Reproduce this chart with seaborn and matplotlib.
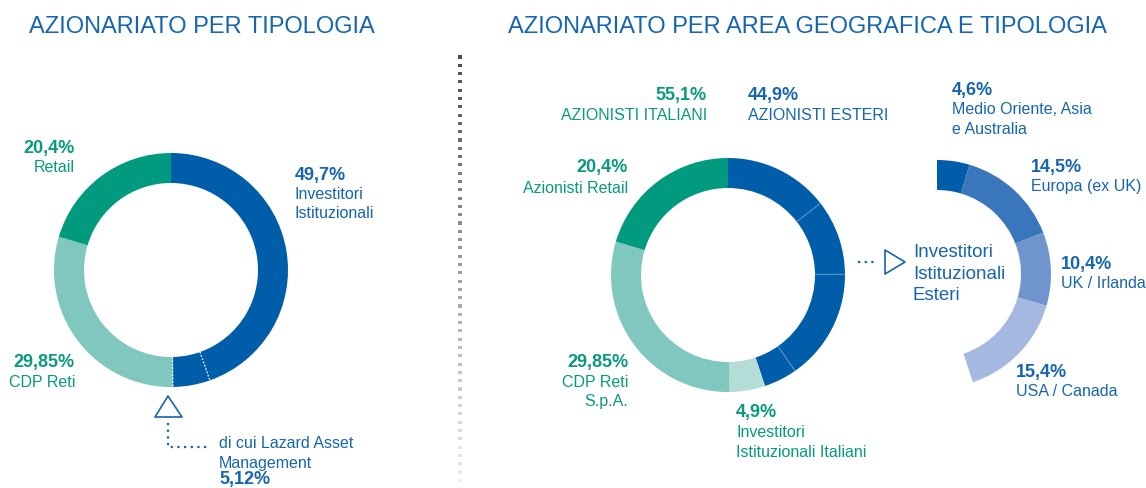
import numpy as np
import matplotlib
matplotlib.use("Agg")
import matplotlib.pyplot as plt
import seaborn as sns
from matplotlib.patches import Polygon

# --- data -------------------------------------------------------------
# left: shareholders by type (Lazard is part of the institutional share)
type_labels = ["Investitori Istituzionali", "di cui Lazard", "CDP Reti", "Retail"]
istituzionali = 49.7
lazard = 5.12
cdp_reti = 29.85
retail = 20.4

# right: by area and type
italian_share = 55.1
foreign_share = 44.9
geo_ring_labels = ["Europa (ex UK)", "UK / Irlanda", "USA / Canada",
                   "Medio Oriente, Asia e Australia",
                   "Investitori Istituzionali Italiani", "CDP Reti S.p.A.",
                   "Azionisti Retail"]
geo_ring_values = [14.5, 10.4, 15.4, 4.6, 4.9, 29.85, 20.4]

arc_labels = ["Medio Oriente, Asia\ne Australia", "Europa (ex UK)",
              "UK / Irlanda", "USA / Canada"]
arc_values = [4.6, 14.5, 10.4, 15.4]

# --- colours ----------------------------------------------------------
DARK = "#005da9"
TEAL = "#009b7e"
MINT = "#7fc7bf"
PALE = "#b4ddd8"
ARC_COLORS = ["#005da9", "#3976bc", "#6f94ce", "#a5b8e0"]
TXT_BLUE = "#1565b0"
TXT_GREEN = "#089a7e"

W, H = 1146, 488

sns.set_theme(style="white")
plt.rcParams["font.family"] = ["Liberation Sans", "DejaVu Sans"]

fig = plt.figure(figsize=(W / 100, H / 100), dpi=100)
ax = fig.add_axes([0, 0, 1, 1])


def ring(values, colors, center, radius, width=30):
    # y axis is inverted (image coords), so counterclock=True draws clockwise
    wedges, _ = ax.pie(values, colors=colors, center=center, radius=radius,
                       startangle=-90, counterclock=True,
                       wedgeprops=dict(width=width, linewidth=0))
    return wedges


def lab(x, y, s, color, bold=False, ha="left", size=11.5):
    ax.text(x, y, s, color=color, ha=ha, va="baseline", fontsize=size,
            fontweight="bold" if bold else "normal")


def radial(center, r_in, r_out, frac, **kw):
    phi = 2 * np.pi * frac
    xs = [center[0] + r * np.sin(phi) for r in (r_in, r_out)]
    ys = [center[1] - r * np.cos(phi) for r in (r_in, r_out)]
    ax.plot(xs, ys, **kw)


# --- left donut -------------------------------------------------------
c1 = (171, 270)
left_vals = [istituzionali - lazard, lazard, cdp_reti, retail]
ring(left_vals, [DARK, DARK, MINT, TEAL], c1, 117)
cum = np.cumsum(left_vals) / sum(left_vals)
for f in (cum[0], cum[1]):
    radial(c1, 87, 117, f, color="white", lw=1.0, ls=(0, (1, 1.5)))

# --- right donut ------------------------------------------------------
c2 = (728, 275)
w2 = ring(geo_ring_values, [DARK] * 4 + [PALE, MINT, TEAL], c2, 117)
cum2 = np.cumsum(geo_ring_values) / sum(geo_ring_values)
for f in cum2[:3]:
    radial(c2, 87, 117, f, color="#6b9ad4", lw=0.6)

# --- foreign institutional arc -----------------------------------------
c3 = (937, 274)
aw = ring(arc_values + [italian_share], ARC_COLORS + ["none"], c3, 114)
aw[-1].set_visible(False)

ax.set_xlim(0, W)
ax.set_ylim(H, 0)
ax.set_aspect("equal")
ax.axis("off")

# --- divider ----------------------------------------------------------
dot_y = np.arange(57, H, 8.3)
shade = np.linspace(0.3, 0.93, len(dot_y))
ax.scatter(np.full_like(dot_y, 460), dot_y, s=5, marker="s",
           c=[(g, g, g) for g in shade], linewidths=0)

# --- titles -----------------------------------------------------------
ax.text(29, 33, "AZIONARIATO PER TIPOLOGIA", color=TXT_BLUE, fontsize=17,
        va="baseline")
ax.text(508, 33, "AZIONARIATO PER AREA GEOGRAFICA E TIPOLOGIA",
        color=TXT_BLUE, fontsize=17, va="baseline")

B = 13  # bold label size

# left labels
lab(75, 153, "20,4%", TXT_GREEN, True, "right", B)
lab(75, 172, "Retail", TXT_GREEN, ha="right")
lab(295, 180, "49,7%", TXT_BLUE, True, size=B)
lab(295, 199, "Investitori", TXT_BLUE)
lab(295, 218, "Istituzionali", TXT_BLUE)
lab(75, 367, "29,85%", TXT_GREEN, True, "right", B)
lab(75, 387, "CDP Reti", TXT_GREEN, ha="right")

ax.add_patch(Polygon([(155, 417), (182, 417), (168, 396)], closed=True,
                     fill=False, ec=TXT_BLUE, lw=1.2, joinstyle="round"))
ax.plot([168, 168, 207], [423, 447, 447], color=TXT_BLUE, lw=1.6,
        ls=(0, (1, 2)), solid_capstyle="round")
lab(219, 448, "di cui Lazard Asset", TXT_BLUE)
lab(219, 468, "Management", TXT_BLUE)
lab(219, 484, "5,12%", TXT_BLUE, True, size=B)

# right labels
lab(707, 100, f"{italian_share:.1f}%".replace(".", ","), TXT_GREEN, True, "right", B)
lab(707, 120, "AZIONISTI ITALIANI", TXT_GREEN, ha="right")
lab(748, 100, f"{foreign_share:.1f}%".replace(".", ","), TXT_BLUE, True, size=B)
lab(748, 120, "AZIONISTI ESTERI", TXT_BLUE)

lab(628, 172, "20,4%", TXT_GREEN, True, "right", B)
lab(628, 193, "Azionisti Retail", TXT_GREEN, ha="right")
lab(628, 367, "29,85%", TXT_GREEN, True, "right", B)
lab(628, 387, "CDP Reti", TXT_GREEN, ha="right")
lab(628, 406, "S.p.A.", TXT_GREEN, ha="right")
lab(736, 417, "4,9%", TXT_GREEN, True, size=B)
lab(736, 437, "Investitori", TXT_GREEN)
lab(736, 457, "Istituzionali Italiani", TXT_GREEN)

# connector to the arc
ax.plot([858, 878], [262, 262], color=TXT_BLUE, lw=1.6, ls=(0, (1, 2)))
ax.add_patch(Polygon([(885, 250), (885, 274), (905, 262)], closed=True,
                     fill=False, ec=TXT_BLUE, lw=1.2, joinstyle="round"))
ax.text(913, 257, "Investitori", color=TXT_BLUE, fontsize=13.5, va="baseline")
ax.text(913, 279, "Istituzionali", color=TXT_BLUE, fontsize=13.5, va="baseline")
ax.text(913, 300, "Esteri", color=TXT_BLUE, fontsize=13.5, va="baseline")

# arc labels
arc_pos = [(952, 95), (1031, 172), (1061, 269), (1016, 377)]
for (x, y), v, name in zip(arc_pos, arc_values, arc_labels):
    lab(x, y, f"{v:.1f}%".replace(".", ","), TXT_BLUE, True, size=B)
    for i, line in enumerate(name.split("\n")):
        lab(x, y + 19 + 20 * i, line, TXT_BLUE)

fig.savefig("out.png", dpi=100)
